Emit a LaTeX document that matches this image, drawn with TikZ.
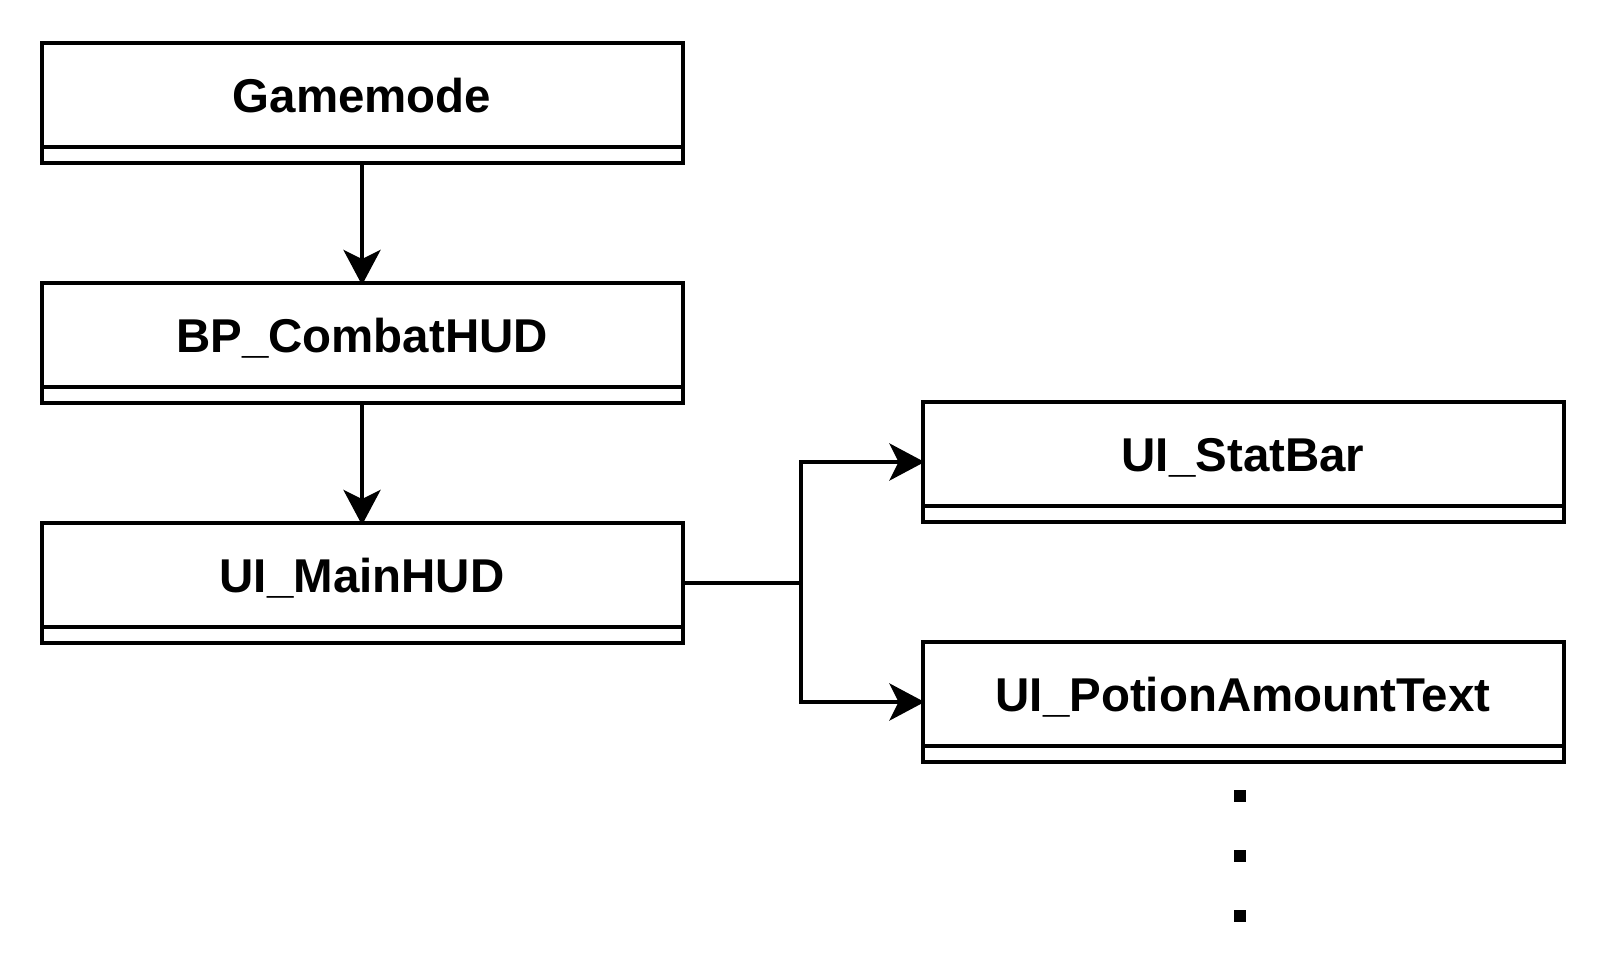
\documentclass[tikz,border=0pt]{standalone}
\usepackage{fontspec}
\setmainfont{Liberation Sans}
\usetikzlibrary{arrows.meta}
\definecolor{ink}{HTML}{000000}
\tikzset{
  cls/.style={rectangle, draw=ink, line width=0.08cm, outer sep=0pt, minimum width=12.82cm, minimum height=2.08cm, inner sep=0pt, text height=20pt, text depth=0pt, font=\fontsize{27}{32}\selectfont\bfseries, text=ink},
  cmp/.style={draw=ink, line width=0.08cm},
  link/.style={draw=ink, line width=0.08cm},
  arr/.style={link, shorten >=-0.04cm, -{Stealth[length=0.70cm, width=0.74cm, inset=0.18cm]}},
  dotsq/.style={rectangle, fill=ink, minimum size=0.24cm, inner sep=0pt},
}

\begin{document}
\begin{tikzpicture}[x=1cm,y=1cm]
  \useasboundingbox (0,0) rectangle (32.08,-19.44);
  % class boxes (header part)
  \node[cls] (gm)   at (7.24,-1.90)   {Gamemode};
  \node[cls] (hud)  at (7.24,-6.70)   {BP\_CombatHUD};
  \node[cls] (main) at (7.24,-11.50)  {UI\_MainHUD};
  \node[cls] (bar)  at (24.86,-9.08)  {UI\_StatBar};
  \node[cls] (pot)  at (24.86,-13.88) {UI\_PotionAmountText};
  % empty compartments
  \foreach \n in {gm,hud,main,bar,pot}
    \draw[cmp] (\n.south west) rectangle ([yshift=-0.32cm]\n.south east);
  % links
  \draw[arr] ([yshift=-0.32cm]gm.south) -- (hud);
  \draw[arr] ([yshift=-0.32cm]hud.south) -- (main);
  \coordinate (fork) at (16.02,-11.66);
  \draw[link] ([yshift=-0.16cm]main.east) -- (fork);
  \draw[arr] (fork) |- ([yshift=-0.16cm]bar.west);
  \draw[arr] (fork) |- ([yshift=-0.16cm]pot.west);
  % more widgets
  \foreach \i/\y in {1/-15.92,2/-17.12,3/-18.32}
    \node[dotsq] (dot\i) at (24.80,\y) {};
\end{tikzpicture}
\end{document}
